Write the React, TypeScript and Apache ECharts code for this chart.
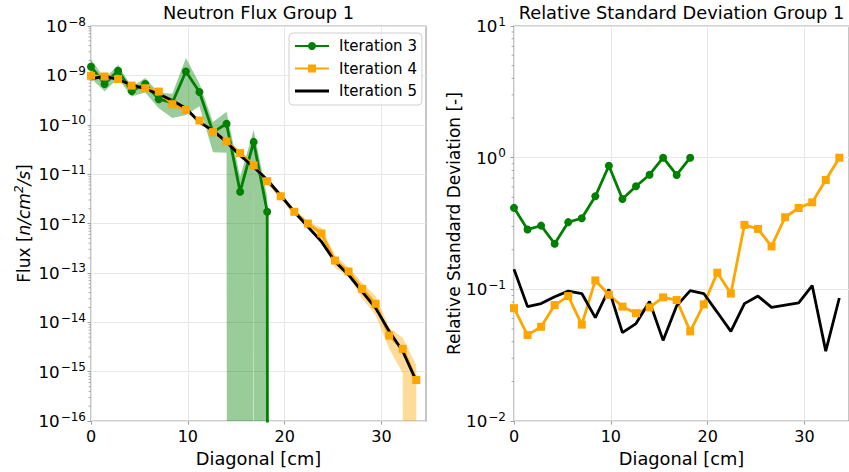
import React, { useEffect, useRef } from 'react';
import * as echarts from 'echarts';

// Distance along the diagonal [cm]
const diagonalCm = [0, 1.4, 2.8, 4.2, 5.6, 7.0, 8.4, 9.8, 11.2, 12.6, 14.0, 15.4, 16.8, 18.2, 19.6, 21.0, 22.4, 23.8, 25.2, 26.6, 28.0, 29.4, 30.8, 32.2, 33.6];

// Neutron flux, group 1 [n/cm^2/s]
const fluxIter3 = [1.5e-9, 6.7e-10, 1.24e-9, 4.8e-10, 6.7e-10, 3.3e-10, 2.8e-10, 1.2e-9, 4.6e-10, 7.1e-11, 1.05e-10, 4.4e-12, 4.5e-11, 1.74e-12, 0, 0, 0, 0, 0, 0, 0, 0, 0, 0, 0];
const fluxIter4 = [9.8e-10, 9.5e-10, 8.4e-10, 6.2e-10, 5.5e-10, 4.7e-10, 2.6e-10, 2.0e-10, 1.22e-10, 7.1e-11, 4.6e-11, 2.67e-11, 1.5e-11, 7.2e-12, 3.57e-12, 1.73e-12, 1.0e-12, 6.3e-13, 1.78e-13, 1.07e-13, 4.75e-14, 2.37e-14, 5.4e-15, 2.9e-15, 6.8e-16];
const fluxIter5 = [8.4e-10, 9.8e-10, 8.15e-10, 6.5e-10, 5.3e-10, 4.2e-10, 3.1e-10, 2.16e-10, 1.13e-10, 7.6e-11, 4.5e-11, 2.4e-11, 1.4e-11, 7.7e-12, 3.7e-12, 1.73e-12, 8.6e-13, 4.3e-13, 1.7e-13, 9.1e-14, 4.2e-14, 1.94e-14, 6.6e-15, 2.6e-15, 6.45e-16];

// Relative standard deviation, group 1 [-]
const rsdIter3 = [0.416, 0.285, 0.305, 0.222, 0.324, 0.347, 0.509, 0.869, 0.486, 0.607, 0.743, 1.0, 0.74, 1.0];
const rsdIter4 = [0.072, 0.045, 0.052, 0.076, 0.089, 0.054, 0.117, 0.091, 0.074, 0.066, 0.073, 0.087, 0.083, 0.048, 0.077, 0.134, 0.093, 0.309, 0.288, 0.212, 0.353, 0.415, 0.458, 0.678, 1.0];
const rsdIter5 = [0.142, 0.074, 0.078, 0.088, 0.097, 0.093, 0.061, 0.1, 0.047, 0.055, 0.081, 0.041, 0.075, 0.098, 0.093, 0.067, 0.048, 0.078, 0.089, 0.073, 0.076, 0.079, 0.107, 0.034, 0.086];

const seriesNames = ['Iteration 3', 'Iteration 4', 'Iteration 5'];
const xTicks = [0, 10, 20, 30];

const FONT = 'DejaVu Sans';
const GREEN = '#008000';
const ORANGE = '#ffa500';
const BLACK = '#000000';
const SPINE = '#a0a0a0';
const GRIDLINE = '#e8e8e8';
const FS_TITLE = 17.8;
const FS_XNAME = 17.8;
const FS_YNAME = 17;
const FS_TICK = 16;
const FS_EXP = 16.7;
const FS_SUP = 12;
const FS_LEGEND = 15;

// non-positive values on a log axis are pushed far below the visible range
const LOG_FLOOR = 1e-300;
const clipLog = (v: number) => (v > 0 ? v : LOG_FLOOR);

const expLabel = (v: number) => {
  const e = Math.round(Math.log10(v));
  return `{b|10}{s|${e < 0 ? '\u2212' : ''}${Math.abs(e)}}`;
};

const expRich = {
  b: { fontSize: FS_EXP, fontFamily: FONT, color: '#000', lineHeight: 21 },
  s: { fontSize: FS_SUP, fontFamily: FONT, color: '#000', lineHeight: 12, verticalAlign: 'top', padding: [0, 0, 0, 1] },
};

const minorValues = (lo: number, hi: number) => {
  const out: number[] = [];
  for (let k = lo; k < hi; k++) for (let m = 2; m <= 9; m++) out.push(m * Math.pow(10, k));
  return out;
};

const bandSeries = (flux: number[], rsd: number[], color: string) => {
  const n = rsd.length;
  const xs = diagonalCm.slice(0, n);
  const upper = xs.map((_, i) => flux[i] * (1 + rsd[i]));
  const lower = xs.map((_, i) => clipLog(flux[i] * (1 - rsd[i])));
  return {
    type: 'custom',
    xAxisIndex: 0,
    yAxisIndex: 0,
    clip: true,
    silent: true,
    data: xs.map((x, i) => [x, lower[i], upper[i]]),
    encode: { x: 0, y: [1, 2] },
    renderItem: (params: any, api: any) => {
      if (params.dataIndex !== 0) return null;
      const pts: number[][] = [];
      for (let i = 0; i < n; i++) pts.push(api.coord([xs[i], upper[i]]));
      for (let i = n - 1; i >= 0; i--) pts.push(api.coord([xs[i], lower[i]]));
      return { type: 'polygon', shape: { points: pts }, style: { fill: color, opacity: 0.4 } };
    },
  };
};

const minorTickSeries = (axisIndex: number, values: number[]) => ({
  type: 'custom',
  xAxisIndex: axisIndex,
  yAxisIndex: axisIndex,
  clip: false,
  silent: true,
  data: values.map((v) => [0, v]),
  renderItem: (_: any, api: any) => {
    const p = api.coord([api.value(0), api.value(1)]);
    return {
      type: 'line',
      shape: { x1: p[0] - 2.4, y1: p[1], x2: p[0], y2: p[1] },
      style: { stroke: SPINE, lineWidth: 0.9 },
    };
  },
});

const lineSeries = (name: string, axisIndex: number, ys: number[], color: string, symbol: string) => ({
  name,
  type: 'line',
  xAxisIndex: axisIndex,
  yAxisIndex: axisIndex,
  data: ys.map((y, i) => [diagonalCm[i], clipLog(y)]),
  symbol,
  symbolSize: 8,
  showSymbol: symbol !== 'none',
  clip: true,
  lineStyle: { color, width: 2.8 },
  itemStyle: { color, borderWidth: 0 },
  emphasis: { disabled: true },
  z: 3,
});

const GRID_TOP = 26;
const GRID_H = 397;
const GRID_W = 335;
const LEFT_L = 91;
const RIGHT_L = 514;
const X_MAX = 34.6;

const xAxisFor = (gridIndex: number) => ({
  type: 'value',
  gridIndex,
  min: 0,
  max: X_MAX,
  name: 'Diagonal [cm]',
  nameLocation: 'middle',
  nameGap: 25,
  nameTextStyle: { fontSize: FS_XNAME, fontFamily: FONT, color: '#000' },
  axisLine: { show: false },
  axisTick: { show: true, length: 3.5, customValues: xTicks, lineStyle: { color: SPINE, width: 1 } },
  axisLabel: { customValues: xTicks, margin: 7, fontSize: FS_TICK, fontFamily: FONT, color: '#000' },
  splitLine: { show: true, lineStyle: { color: GRIDLINE, width: 1 } },
});

const yAxisFor = (gridIndex: number, min: number, max: number, name: string, nameGap: number, margin: number, nameRich?: any) => ({
  type: 'log',
  logBase: 10,
  gridIndex,
  min,
  max,
  interval: 1,
  name,
  nameLocation: 'middle',
  nameGap,
  nameRotate: 90,
  nameTextStyle: { fontSize: FS_YNAME, fontFamily: FONT, color: '#000', ...(nameRich ? { rich: nameRich } : {}) },
  axisLine: { show: false },
  axisTick: { show: true, length: 3.5, lineStyle: { color: SPINE, width: 1 } },
  axisLabel: { margin, formatter: expLabel, rich: expRich },
  splitLine: { show: true, lineStyle: { color: GRIDLINE, width: 1 } },
});

const fluxNameRich = {
  r: { fontSize: FS_YNAME, fontFamily: FONT, color: '#000', lineHeight: 21 },
  i: { fontSize: FS_YNAME, fontFamily: FONT, color: '#000', fontStyle: 'italic', lineHeight: 21 },
  s: { fontSize: FS_SUP, fontFamily: FONT, color: '#000', fontStyle: 'italic', lineHeight: 12, verticalAlign: 'top' },
};

const option: any = {
  animation: false,
  backgroundColor: '#ffffff',
  textStyle: { fontFamily: FONT },
  graphic: [
    {
      type: 'text',
      x: LEFT_L + GRID_W / 2,
      y: 12.5,
      style: { text: 'Neutron Flux Group 1', fontSize: FS_TITLE, fontFamily: FONT, fill: '#000', textAlign: 'center', textVerticalAlign: 'middle' },
    },
    {
      type: 'text',
      x: RIGHT_L + GRID_W / 2,
      y: 12.5,
      style: { text: 'Relative Standard Deviation Group 1', fontSize: FS_TITLE, fontFamily: FONT, fill: '#000', textAlign: 'center', textVerticalAlign: 'middle' },
    },
  ],
  grid: [
    { left: LEFT_L, top: GRID_TOP, width: GRID_W, height: GRID_H, show: true, borderColor: SPINE, borderWidth: 1.2, backgroundColor: 'transparent' },
    { left: RIGHT_L, top: GRID_TOP, width: GRID_W, height: GRID_H, show: true, borderColor: SPINE, borderWidth: 1.2, backgroundColor: 'transparent' },
  ],
  xAxis: [xAxisFor(0), xAxisFor(1)],
  yAxis: [
    yAxisFor(0, 1e-16, 1e-8, '{r|Flux [}{i|n/cm}{s|2}{i|/s}{r|]}', 57, 5, fluxNameRich),
    yAxisFor(1, 1e-2, 1e1, 'Relative Standard Deviation [-]', 52, 8),
  ],
  legend: {
    show: true,
    orient: 'vertical',
    left: 289,
    top: 33,
    padding: [5, 5, 6, 5],
    itemWidth: 34,
    itemHeight: 10,
    itemGap: 6.5,
    backgroundColor: 'rgba(255,255,255,0.8)',
    borderColor: '#d0d0d0',
    borderWidth: 1,
    borderRadius: 4,
    textStyle: { fontSize: FS_LEGEND, fontFamily: FONT, color: '#000', lineHeight: 16, padding: [0, 0, 0, 5] },
    data: [
      { name: seriesNames[0] },
      { name: seriesNames[1] },
      { name: seriesNames[2], icon: 'path://M0,0M34,10M0,3.6L34,3.6L34,6.4L0,6.4Z' },
    ],
    selectedMode: false,
  },
  series: [
    bandSeries(fluxIter3, rsdIter3, GREEN),
    lineSeries(seriesNames[0], 0, fluxIter3, GREEN, 'circle'),
    bandSeries(fluxIter4, rsdIter4, ORANGE),
    lineSeries(seriesNames[1], 0, fluxIter4, ORANGE, 'rect'),
    lineSeries(seriesNames[2], 0, fluxIter5, BLACK, 'none'),
    minorTickSeries(0, minorValues(-16, -8)),
    lineSeries(seriesNames[0], 1, rsdIter3, GREEN, 'circle'),
    lineSeries(seriesNames[1], 1, rsdIter4, ORANGE, 'rect'),
    lineSeries(seriesNames[2], 1, rsdIter5, BLACK, 'none'),
    minorTickSeries(1, minorValues(-2, 1)),
  ],
};

export default function App() {
  const ref = useRef<HTMLDivElement>(null);
  useEffect(() => {
    if (!ref.current) return;
    const chart = echarts.init(ref.current, undefined, { renderer: 'svg', width: 849, height: 472 });
    chart.setOption(option);
    return () => chart.dispose();
  }, []);
  return (
    <div
      ref={ref}
      style={{ position: 'fixed', left: 0, top: 0, width: 849, height: 472, background: '#ffffff' }}
    />
  );
}
